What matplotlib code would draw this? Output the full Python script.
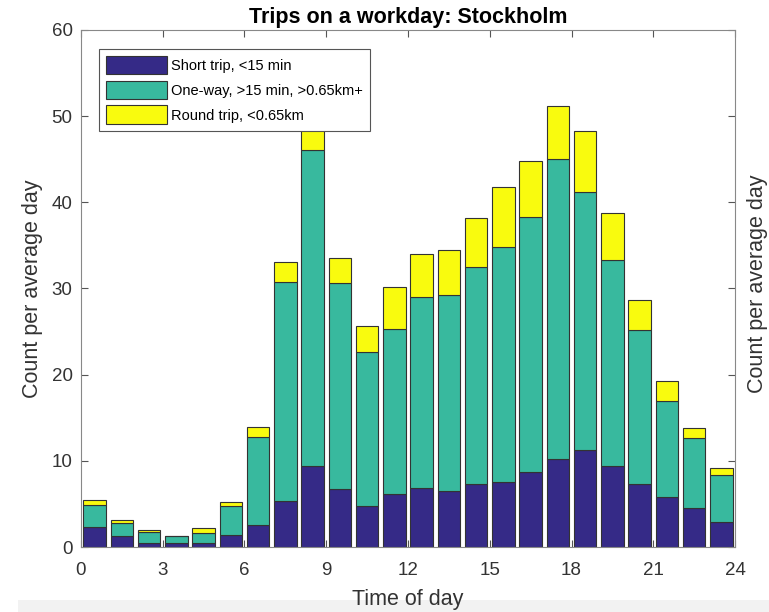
import matplotlib
matplotlib.use("Agg")
import matplotlib.pyplot as plt
import numpy as np
from matplotlib.patches import Rectangle

plt.rcParams['font.family'] = ['Liberation Sans', 'DejaVu Sans']

# stacked totals (top of each colour band), hours 0..23
hours = np.arange(24)
short_top = [2.3, 1.3, 0.5, 0.45, 0.5, 1.4, 2.6, 5.3, 9.4, 6.7, 4.8, 6.2,
             6.9, 6.45, 7.3, 7.5, 8.65, 10.2, 11.25, 9.4, 7.3, 5.85, 4.5, 2.95]
oneway_top = [4.9, 2.75, 1.7, 1.25, 1.6, 4.8, 12.8, 30.8, 46.1, 30.6, 22.6, 25.3,
              29.0, 29.2, 32.5, 34.85, 38.3, 45.0, 41.2, 33.3, 25.2, 16.9, 12.6, 8.4]
round_top = [5.4, 3.1, 2.0, 1.3, 2.15, 5.25, 13.9, 33.1, 50.5, 33.5, 25.7, 30.2,
             34.0, 34.5, 38.2, 41.8, 44.8, 51.2, 48.3, 38.8, 28.7, 19.3, 13.8, 9.2]

short = np.array(short_top)
oneway = np.array(oneway_top) - short
roundtrip = np.array(round_top) - np.array(oneway_top)

labels = ["Short trip, <15 min", "One-way, >15 min, >0.65km+", "Round trip, <0.65km"]
colors = ["#352a87", "#38b99e", "#f9fb0e"]

fig = plt.figure(figsize=(7.69, 6.12), dpi=100)
# faint grey strip at the bottom of the screenshot
fig.patches.append(Rectangle((0.024, 0.0), 0.976, 0.02, transform=fig.transFigure,
                             facecolor="#f2f2f2", edgecolor="none", zorder=-1))
ax = fig.add_axes([0.1053, 0.1062, 0.8505, 0.8448])

x = hours + 0.5
bottom = np.zeros(24)
for vals, col, lab in zip([short, oneway, roundtrip], colors, labels):
    ax.bar(x, vals, width=0.83, bottom=bottom, color=col, edgecolor="#333333",
           linewidth=0.8, label=lab)
    bottom = bottom + vals

ax.set_xlim(0, 24)
ax.set_ylim(0, 60)
ax.set_xticks(np.arange(0, 25, 3))
ax.set_yticks(np.arange(0, 61, 10))
ax.tick_params(direction="in", top=True, right=True, length=5, width=0.8,
               color="#555555", labelsize=13.5, labelcolor="#333333")
ax.tick_params(axis="x", pad=11)
ax.tick_params(axis="y", pad=6)
for sp in ax.spines.values():
    sp.set_color("#888888")
    sp.set_linewidth(0.8)

ax.set_title("Trips on a workday: Stockholm", fontsize=15.5, fontweight="bold", pad=5)
ax.set_xlabel("Time of day", fontsize=15.5, color="#333333", labelpad=7)
ax.set_ylabel("Count per average day", fontsize=15.5, color="#333333", labelpad=6)

leg = ax.legend(loc="upper left", bbox_to_anchor=(0.0275, 0.963), borderaxespad=0,
                fontsize=10.5, handlelength=4.2, handleheight=1.6, handletextpad=0.3,
                labelspacing=0.42, borderpad=0.45, fancybox=False, framealpha=1)
leg.get_frame().set_edgecolor("#555555")
leg.get_frame().set_linewidth(0.8)

# label of the neighbouring panel at the right edge
fig.text(0.999, 0.536, "Count per average day", rotation=90, fontsize=15.5,
         color="#333333", ha="right", va="center")

fig.savefig("out.png", dpi=100)
